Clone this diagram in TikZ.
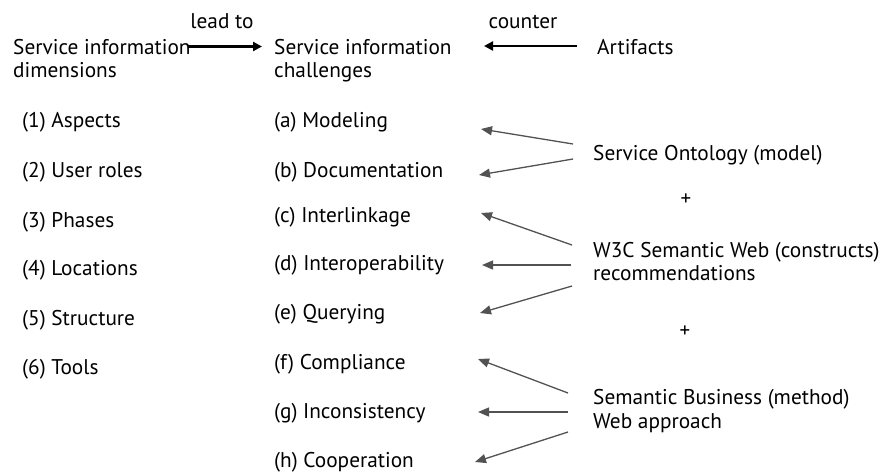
\documentclass[tikz,border=0pt]{standalone}
\usepackage{fontspec}
\setmainfont{PT Sans}
\usetikzlibrary{arrows.meta}
\begin{document}
\begin{tikzpicture}[x=1pt,y=-1pt,
  txt/.style={anchor=base west,inner sep=0pt,font=\fontsize{21.3}{23}\selectfont,align=left},
  ctr/.style={anchor=base,inner sep=0pt,font=\fontsize{21.3}{23}\selectfont},
  plus/.style={anchor=center,inner sep=0pt,font=\fontsize{21}{23}\selectfont},
  bigarrow/.style={line width=2.6pt,-{Triangle[length=9pt,width=9pt]}},
  grayarrow/.style={draw=black!68,line width=1.3pt,-{Triangle[length=11pt,width=9pt]}}]
\useasboundingbox (0,0) rectangle (890,472);
% headers
\node[txt] (dim) at (13,54) {Service information};
\node[txt] (dim2) at (13,77) {dimensions};
\node[txt] (chal) at (274,54) {Service information};
\node[txt] (chal2) at (274,77) {challenges};
\node[txt] (art) at (597,54) {Artifacts};
\node[ctr] (lead) at (222,28) {lead to};
\node[ctr] (counter) at (523,28) {counter};
\coordinate (la) at (188,46.5);
\coordinate (lb) at (262,46.5);
\draw[bigarrow] (la) -- (lb);
\coordinate (ca) at (577,46);
\coordinate (cb) at (484,46);
\draw[bigarrow] (ca) -- (cb);
% left list
\node[txt] (d1) at (22,127) {(1) Aspects};
\node[txt] (d2) at (22,177) {(2) User roles};
\node[txt] (d3) at (22,227) {(3) Phases};
\node[txt] (d4) at (22,275) {(4) Locations};
\node[txt] (d5) at (22,325) {(5) Structure};
\node[txt] (d6) at (22,374) {(6) Tools};
% middle list
\node[txt] (ca1) at (274,127) {(a) Modeling};
\node[txt] (cb1) at (274,177) {(b) Documentation};
\node[txt] (cc1) at (274,222) {(c) Interlinkage};
\node[txt] (cd1) at (274,270) {(d) Interoperability};
\node[txt] (ce1) at (274,319) {(e) Querying};
\node[txt] (cf1) at (274,369) {(f) Compliance};
\node[txt] (cg1) at (274,418) {(g) Inconsistency};
\node[txt] (ch1) at (274,467) {(h) Cooperation};
% right
\node[txt] (so) at (593,160) {Service Ontology (model)};
\node[plus] (p1) at (686,200) {+};
\node[txt] (w3c) at (593,257) {W3C Semantic Web (constructs)};
\node[txt] (w3c2) at (593,280) {recommendations};
\node[plus] (p2) at (685,332) {+};
\node[txt] (sb) at (593,404) {Semantic Business (method)};
\node[txt] (sb2) at (593,428) {Web approach};
% gray arrows
\coordinate (s1) at (573,144); \coordinate (e1) at (481,129);
\coordinate (s2) at (573,159); \coordinate (e2) at (479,175);
\coordinate (s3) at (572,245); \coordinate (e3) at (481,213);
\coordinate (s4) at (571,265); \coordinate (e4) at (482,265);
\coordinate (s5) at (572,286); \coordinate (e5) at (480,313);
\coordinate (s6) at (568,393); \coordinate (e6) at (478,359);
\coordinate (s7) at (568,412); \coordinate (e7) at (478,412);
\coordinate (s8) at (568,432); \coordinate (e8) at (475,462);
\foreach \i in {1,...,8} {\draw[grayarrow] (s\i) -- (e\i);}
\end{tikzpicture}
\end{document}
